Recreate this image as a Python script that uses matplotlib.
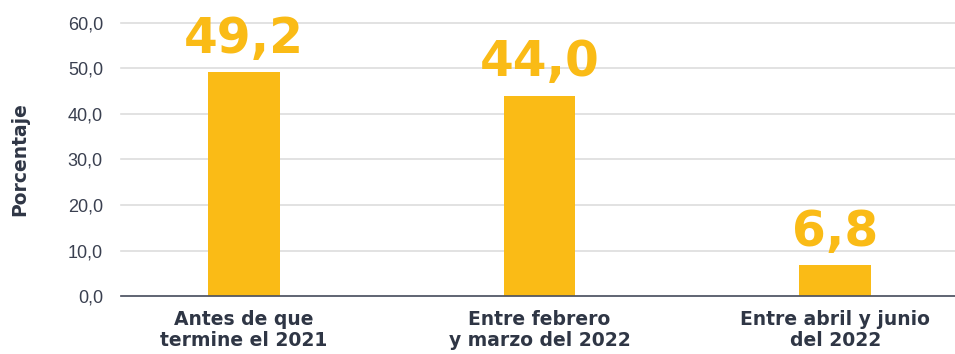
import matplotlib
matplotlib.use("Agg")
from matplotlib import pyplot as plt
import numpy as np

categorias = ["Antes de que\ntermine el 2021",
              "Entre febrero\ny marzo del 2022",
              "Entre abril y junio\ndel 2022"]
porcentajes = [49.2, 44.0, 6.8]
yticks = [0, 10, 20, 30, 40, 50, 60]

amarillo = "#FABB16"
texto = "#2F3645"

plt.rcParams['font.family'] = ['Liberation Sans', 'DejaVu Sans']

fig = plt.figure(figsize=(9.55, 3.54), dpi=100)
ax = fig.add_axes([121/955, 1 - 296/354, 834/955, (296 - 23)/354])

x = np.arange(len(categorias))
bars = ax.bar(x, porcentajes, width=0.243, color=amarillo, zorder=3)

for xi, v in zip(x, porcentajes):
    ax.annotate(f"{v:.1f}".replace(".", ","), (xi, v), xytext=(0, 14),
                textcoords="offset points", ha="center", va="baseline",
                fontsize=35, fontweight="bold", color=amarillo,
                family="DejaVu Sans", annotation_clip=False, zorder=4)

ax.set_xlim(-0.415, 2.405)
ax.set_ylim(0, 60)
ax.set_yticks(yticks)
ax.set_yticklabels([f"{t:.1f}".replace(".", ",") for t in yticks],
                   fontsize=13, color="#3A4050")
ax.set_xticks(x)
ax.set_xticklabels(categorias, fontsize=13.5, fontweight="bold", color=texto,
                   family="DejaVu Sans", linespacing=1.15)
ax.tick_params(axis="y", length=0, pad=13)
ax.tick_params(axis="x", length=0, pad=10)

ax.grid(axis="y", color="#DDDDDD", linewidth=1.2, zorder=0)
# top gridline sits on the axes edge, keep it whole
for gl in ax.yaxis.get_gridlines():
    gl.set_clip_on(False)
for s in ["top", "right", "left"]:
    ax.spines[s].set_visible(False)
ax.spines["bottom"].set_color("#4A5060")
ax.spines["bottom"].set_linewidth(1.2)
ax.spines["bottom"].set_zorder(5)

ax.set_ylabel("Porcentaje", fontsize=13.5, fontweight="bold", color=texto,
              family="DejaVu Sans", labelpad=28)

fig.savefig("out.png", dpi=100)
